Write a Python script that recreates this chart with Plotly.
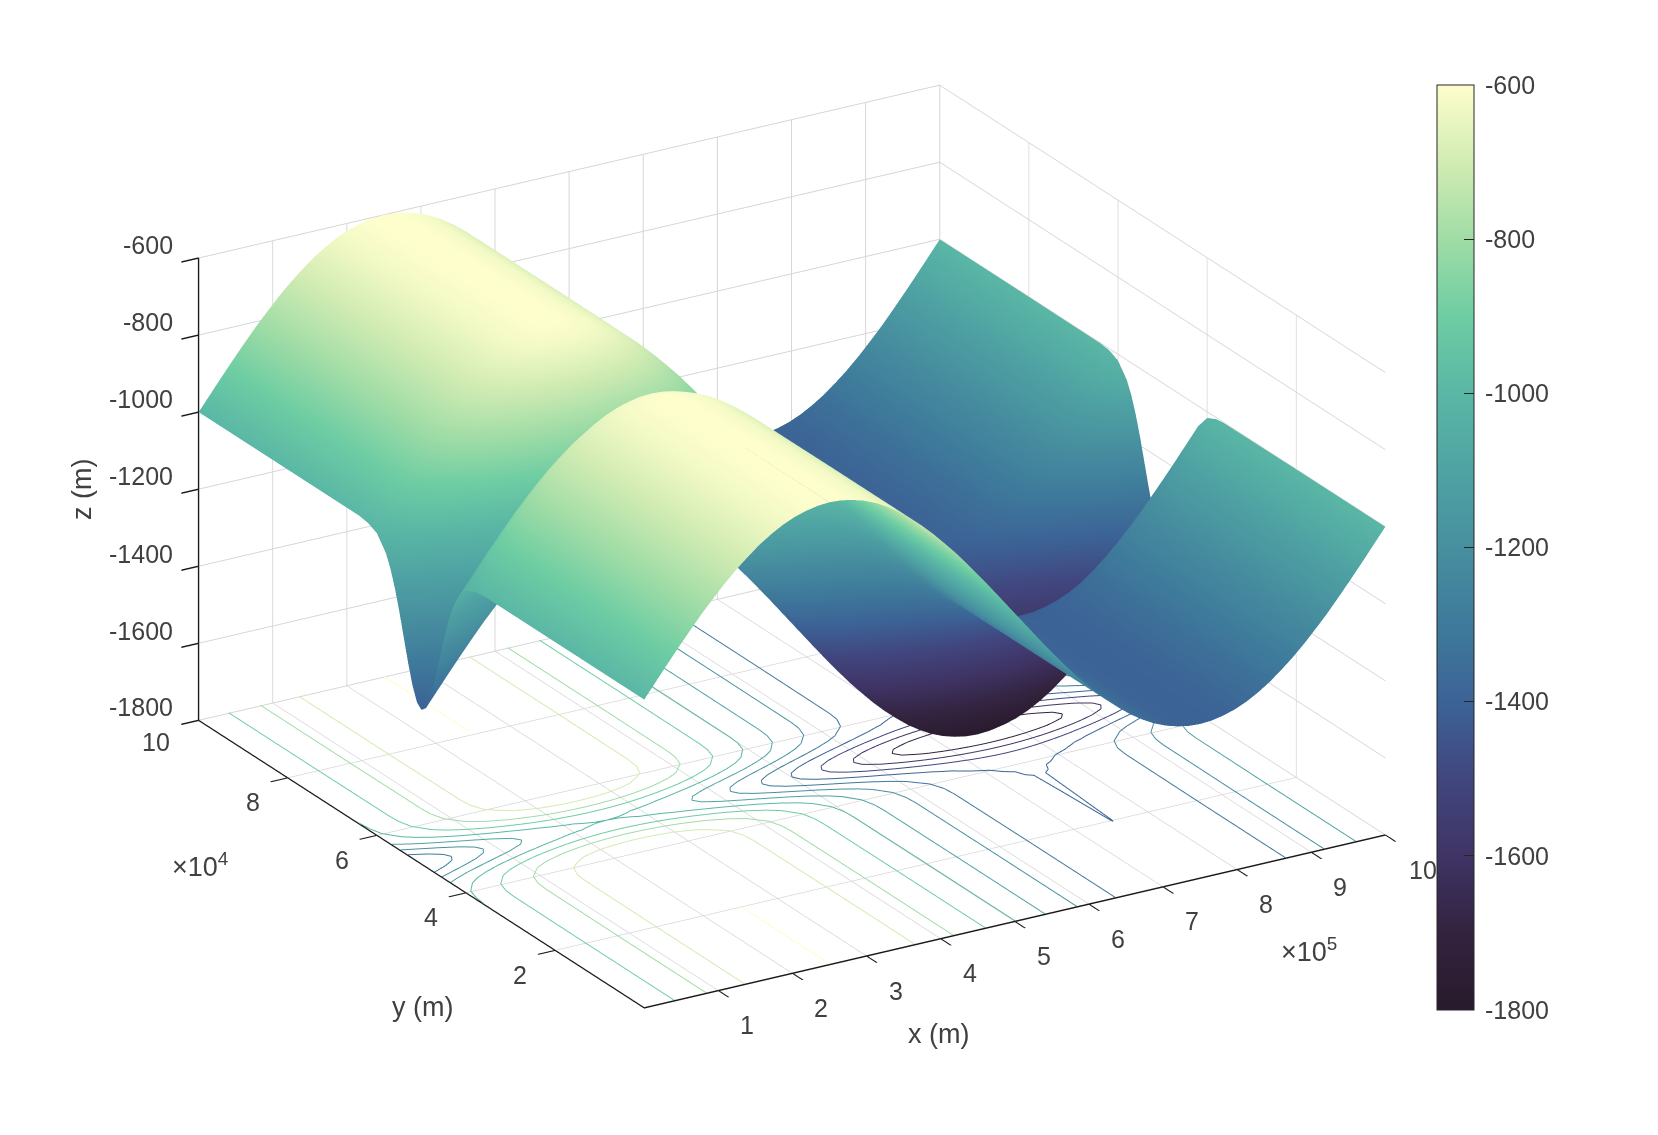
import numpy as np
import plotly.graph_objects as go

x_m = [0,15625,31250,46875,62500,78125,93750,109375,125000,140625,156250,171875,187500,203125,218750,234375,250000,
       265625,281250,296875,312500,328125,343750,359375,375000,390625,406250,421875,437500,453125,468750,484375,500000,
       515625,531250,546875,562500,578125,593750,609375,625000,640625,656250,671875,687500,703125,718750,734375,750000,
       765625,781250,796875,812500,828125,843750,859375,875000,890625,906250,921875,937500,953125,968750,984375,1000000]
y_m = [0,19000,20000,36000,38000,40000,42000,43000,44000,45000,46000,47000,48000,49000,50000,
       51000,52000,53000,54000,55000,56000,57000,58000,60000,62000,64000,80000,81000,100000]

ra = [-1000,-961,-922,-884,-847,-811,-778,-746,-717,-691,-667,-647,-630,-617,-608,-602,-600,-602,-608,-617,-630,-647,-667,-691,-717,-746,-778,-811,-847,-884,-922,-961,-1000,
      -1039,-1078,-1116,-1153,-1189,-1222,-1254,-1283,-1309,-1333,-1353,-1370,-1383,-1392,-1398,-1399.9,-1398,-1392,-1383,-1370,-1353,-1333,-1309,-1283,-1254,-1222,-1189,-1153,-1116,-1078,-1039,-1000.01]
rb = [-1000,-961,-922,-884,-847,-811,-778,-746,-717,-691,-667,-647,-630,-617,-608,-602,-600.1,-602,-608,-617,-630,-647,-667,-691,-717,-746,-778,-811,-847,-884,-922,-961,-1000,
      -1039,-1078,-1116,-1153,-1189,-1222,-1254,-1283,-1309,-1333,-1353,-1370,-1383,-1392,-1398,-1400.1,-1398,-1392,-1383,-1370,-1353,-1333,-1309,-1283,-1254,-1222,-1189,-1153,-1116,-1078,-1039,-1000.01]
r01 = [-1000,-962,-923,-885,-848,-812,-779,-747,-718,-692,-668,-648,-631,-618,-609,-603,-601,-603,-609,-618,-631,-648,-668,-692,-718,-747,-779,-812,-848,-885,-923,-962,-1001,
       -1040,-1079,-1117,-1154,-1190,-1223,-1255,-1284,-1310,-1334,-1354,-1371,-1384,-1393,-1399,-1401,-1399,-1393,-1384,-1371,-1354,-1334,-1310,-1284,-1255,-1223,-1190,-1154,-1117,-1079,-1040,-1001]
r04 = [-1004,-965,-926,-888,-851,-815,-782,-750,-721,-695,-671,-651,-634,-621,-612,-606,-604,-606,-612,-621,-634,-651,-671,-695,-721,-750,-782,-815,-851,-888,-926,-965,-1004,
       -1043,-1082,-1120,-1157,-1193,-1226,-1258,-1287,-1313,-1337,-1357,-1374,-1387,-1396,-1402,-1404,-1402,-1396,-1387,-1374,-1357,-1337,-1313,-1287,-1258,-1226,-1193,-1157,-1120,-1082,-1043,-1004]
r16 = [-1016,-977,-938,-900,-863,-827,-794,-762,-733,-707,-683,-663,-646,-633,-624,-618,-616,-618,-624,-633,-646,-663,-683,-707,-733,-762,-794,-827,-863,-900,-938,-977,-1016,
       -1055,-1094,-1132,-1169,-1205,-1238,-1270,-1299,-1325,-1349,-1369,-1386,-1399,-1408,-1414,-1416,-1414,-1408,-1399,-1386,-1369,-1349,-1325,-1299,-1270,-1238,-1205,-1169,-1132,-1094,-1055,-1016]
r52 = [-1052,-1013,-974,-936,-899,-863,-830,-798,-769,-743,-719,-699,-682,-669,-660,-654,-652,-654,-660,-669,-682,-699,-719,-743,-769,-798,-830,-863,-899,-936,-974,-1013,-1052,
       -1091,-1130,-1168,-1205,-1241,-1274,-1306,-1335,-1361,-1385,-1405,-1422,-1435,-1444,-1450,-1452,-1450,-1444,-1435,-1422,-1405,-1385,-1361,-1335,-1306,-1274,-1241,-1205,-1168,-1130,-1091,-1052]
r84 = [-1084,-1045,-1006,-968,-931,-895,-862,-830,-801,-775,-751,-731,-714,-701,-692,-686,-684,-686,-692,-701,-714,-731,-751,-775,-801,-830,-862,-895,-931,-968,-1006,-1045,-1084,
       -1123,-1162,-1200,-1237,-1273,-1306,-1338,-1367,-1393,-1417,-1437,-1454,-1467,-1476,-1482,-1484,-1482,-1476,-1467,-1454,-1437,-1417,-1393,-1367,-1338,-1306,-1273,-1237,-1200,-1162,-1123,-1084]
r127 = [-1127,-1088,-1049,-1011,-974,-938,-905,-873,-844,-818,-794,-774,-757,-744,-735,-729,-727,-729,-735,-744,-757,-774,-794,-818,-844,-873,-905,-938,-974,-1011,-1049,-1088,-1127,
        -1166,-1205,-1243,-1280,-1316,-1349,-1381,-1410,-1436,-1460,-1480,-1497,-1510,-1519,-1525,-1527,-1525,-1519,-1510,-1497,-1480,-1460,-1436,-1410,-1381,-1349,-1316,-1280,-1243,-1205,-1166,-1127]
r180 = [-1180,-1141,-1102,-1064,-1027,-991,-958,-926,-897,-871,-847,-827,-810,-797,-788,-782,-780,-782,-788,-797,-810,-827,-847,-871,-897,-926,-958,-991,-1027,-1064,-1102,-1141,-1180,
        -1219,-1258,-1296,-1333,-1369,-1402,-1434,-1463,-1489,-1513,-1533,-1550,-1563,-1572,-1578,-1580,-1578,-1572,-1563,-1550,-1533,-1513,-1489,-1463,-1434,-1402,-1369,-1333,-1296,-1258,-1219,-1180]
r240 = [-1240,-1201,-1162,-1124,-1087,-1051,-1018,-986,-957,-931,-907,-887,-870,-857,-848,-842,-840,-842,-848,-857,-870,-887,-907,-931,-957,-986,-1018,-1051,-1087,-1124,-1162,-1201,-1240,
        -1279,-1318,-1356,-1393,-1429,-1462,-1494,-1523,-1549,-1573,-1593,-1610,-1623,-1632,-1638,-1640,-1638,-1632,-1623,-1610,-1593,-1573,-1549,-1523,-1494,-1462,-1429,-1393,-1356,-1318,-1279,-1240]
r300 = [-1300,-1261,-1222,-1184,-1147,-1111,-1078,-1046,-1017,-991,-967,-947,-930,-917,-908,-902,-900,-902,-908,-917,-930,-947,-967,-991,-1017,-1046,-1078,-1111,-1147,-1184,-1222,-1261,-1300,
        -1339,-1378,-1416,-1453,-1489,-1522,-1554,-1583,-1609,-1633,-1653,-1670,-1683,-1692,-1698,-1700,-1698,-1692,-1683,-1670,-1653,-1633,-1609,-1583,-1554,-1522,-1489,-1453,-1416,-1378,-1339,-1300]
r352 = [-1352,-1313,-1274,-1236,-1199,-1163,-1130,-1098,-1069,-1043,-1019,-999,-982,-969,-960,-954,-952,-954,-960,-969,-982,-999,-1019,-1043,-1069,-1098,-1130,-1163,-1199,-1236,-1274,-1313,-1352,
        -1391,-1430,-1468,-1505,-1541,-1574,-1606,-1635,-1661,-1685,-1705,-1722,-1735,-1744,-1750,-1752,-1750,-1744,-1735,-1722,-1705,-1685,-1661,-1635,-1606,-1574,-1541,-1505,-1468,-1430,-1391,-1352]
r388 = [-1388,-1349,-1310,-1272,-1235,-1199,-1166,-1134,-1105,-1079,-1055,-1035,-1018,-1005,-996,-990,-988,-990,-996,-1005,-1018,-1035,-1055,-1079,-1105,-1134,-1166,-1199,-1235,-1272,-1310,-1349,-1388,
        -1427,-1466,-1504,-1541,-1577,-1610,-1642,-1671,-1697,-1721,-1741,-1758,-1771,-1780,-1786,-1788,-1786,-1780,-1771,-1758,-1741,-1721,-1697,-1671,-1642,-1610,-1577,-1541,-1504,-1466,-1427,-1388]
r400 = [-1400,-1361,-1322,-1284,-1247,-1211,-1178,-1146,-1117,-1091,-1067,-1047,-1030,-1017,-1008,-1002,-1000,-1002,-1008,-1017,-1030,-1047,-1067,-1091,-1117,-1146,-1178,-1211,-1247,-1284,-1322,-1361,-1400,
        -1439,-1478,-1516,-1553,-1589,-1622,-1654,-1683,-1709,-1733,-1753,-1770,-1783,-1792,-1798,-1800,-1798,-1792,-1783,-1770,-1753,-1733,-1709,-1683,-1654,-1622,-1589,-1553,-1516,-1478,-1439,-1400]

z_rows = [ra, ra, rb, r01, r04, r16, r52, r84, r127, r180, r240, r300, r352, r388, r400,
          r388, r352, r300, r240, r180, r127, r84, r52, r16, r04, r01, rb, ra, ra]

contour_levels = [-1700,-1600,-1500,-1400,-1300,-1200,-1100,-1000,-900,-800,-700,-600]
x_ticks = [100000,200000,300000,400000,500000,600000,700000,800000,900000,1000000]
x_labels = ["1","2","3","4","5","6","7","8","9","10"]
y_ticks = [20000,40000,60000,80000,100000]
y_labels = ["2","4","6","8","10"]
z_ticks = [-1800,-1600,-1400,-1200,-1000,-800,-600]
z_labels = ["-1800","-1600","-1400","-1200","-1000","-800","-600"]

deep = [[0,"#281a2c"],[0.083,"#33233f"],[0.167,"#3f3465"],[0.25,"#41467f"],[0.333,"#3c6396"],[0.417,"#3e7a9b"],
        [0.5,"#478f9f"],[0.583,"#4fa3a3"],[0.667,"#5ab7a5"],[0.75,"#6ecda3"],[0.833,"#a0dca6"],[0.917,"#d2ecb3"],[1,"#fdfecc"]]

TXT = "#404040"
FONT = "Liberation Sans"
TICK_SIZE = 25
PAGE = 8
W, H = 1658, 1135
FLOOR_LIFT = -1798   # just inside the scene clip box, which hides lines lying exactly on its floor
X_EDGE, Y_EDGE, Z_EDGE = 999000, 99900, -1799   # label anchors must stay just inside the box to be shown
def px(v): return (v - PAGE) / W
def py(v): return 1 - (v - PAGE) / H

z = np.array(z_rows, dtype=float)
flat = dict(ambient=1, diffuse=0, specular=0, roughness=1, fresnel=0)

def trace_contours(xs, ys, table, levels):
    out_x, out_y, out_c = [], [], []
    for level in levels:
        for j in range(len(ys) - 1):
            for i in range(len(xs) - 1):
                corners = [(xs[i], ys[j], table[j, i]), (xs[i+1], ys[j], table[j, i+1]),
                           (xs[i+1], ys[j+1], table[j+1, i+1]), (xs[i], ys[j+1], table[j+1, i])]
                for tri in ((corners[0], corners[1], corners[2]), (corners[0], corners[2], corners[3])):
                    hits = []
                    for a, b in ((tri[0], tri[1]), (tri[1], tri[2]), (tri[2], tri[0])):
                        if (a[2] >= level) != (b[2] >= level):
                            t = (level - a[2]) / (b[2] - a[2])
                            hits.append((a[0] + t*(b[0]-a[0]), a[1] + t*(b[1]-a[1])))
                    if len(hits) == 2:
                        out_x += [hits[0][0], hits[1][0], None]
                        out_y += [hits[0][1], hits[1][1], None]
                        out_c += [level, level, level]
    return out_x, out_y, out_c

cx, cy, cc = trace_contours(x_m, y_m, z, contour_levels)
lines = go.Scatter3d(x=cx, y=cy, z=[FLOOR_LIFT]*len(cx), mode="lines", hoverinfo="skip", showlegend=False,
                     line=dict(color=cc, colorscale=deep, cmin=-1800, cmax=-600, width=2))
surf = go.Surface(x=x_m, y=y_m, z=z, colorscale=deep, cmin=-1800, cmax=-600, lighting=flat,
                  colorbar=dict(x=px(1437), xanchor="left", xpad=0, ypad=0, y=py(547.5), yanchor="middle", len=925/H,
                                thickness=37, outlinecolor="#262626", outlinewidth=1, tickvals=z_ticks,
                                ticktext=["\u2009" + s for s in z_labels],
                                ticks="inside", ticklen=10, tickcolor="#262626",
                                tickfont=dict(family=FONT, size=TICK_SIZE, color=TXT)))

def axis(ticks, rng):
    return dict(range=rng, tickvals=ticks, showticklabels=False, title=dict(text=""), showbackground=False,
                showgrid=True, gridcolor="#d6d6d6", gridwidth=2, zeroline=False, showline=True, linecolor="#1a1a1a",
                linewidth=3, ticks="outside", ticklen=20, tickcolor="#1a1a1a", tickwidth=3, showspikes=False)

tick_font = dict(family=FONT, size=TICK_SIZE, color=TXT)
scene_notes = []
for v, s in zip(x_ticks, x_labels):
    scene_notes.append(dict(x=min(v, X_EDGE), y=0, z=Z_EDGE, text=s, showarrow=False, xshift=38 if s == "10" else 29, yshift=-35, font=tick_font))
for v, s in zip(y_ticks, y_labels):
    scene_notes.append(dict(x=0, y=min(v, Y_EDGE), z=Z_EDGE, text=s, showarrow=False, xshift=-43 if s == "10" else -35,
                            yshift=-22 if s == "10" else -25, font=tick_font))
for v, s in zip(z_ticks, z_labels):
    scene_notes.append(dict(x=0, y=Y_EDGE, z=max(v, Z_EDGE), text=s, showarrow=False, xanchor="right", xshift=-24, yshift=13, font=tick_font))

E = 1.25
SCALE = 1.606
title_font = dict(family=FONT, size=27, color=TXT)
def note(text, x, y, **kw):
    return dict(text=text, x=px(x), y=py(y), xref="paper", yref="paper", xanchor="center", yanchor="middle",
                showarrow=False, font=title_font, **kw)
fig = go.Figure([lines, surf])
fig.update_layout(
    width=W, height=H, margin=dict(l=0, r=0, t=0, b=0, autoexpand=False), paper_bgcolor="white", showlegend=False,
    scene=dict(domain=dict(x=[0, 0.9457], y=[0.0511, 1]),
               xaxis=axis(x_ticks, [0, 1000000]),
               yaxis=axis(y_ticks, [0, 100000]),
               zaxis=axis(z_ticks, [-1800, -600]),
               aspectmode="manual", aspectratio=dict(x=SCALE, y=SCALE, z=0.58*SCALE),
               annotations=scene_notes,
               camera=dict(projection=dict(type="orthographic"), up=dict(x=0, y=0, z=1),
                           eye=dict(x=-0.475*E, y=-0.79*E, z=0.388*E), center=dict(x=0, y=0, z=0))),
    annotations=[
        note("x (m)", 938, 1034),
        note("y (m)", 422, 1007),
        note("z (m)", 82, 490, textangle=-90),
        note("×10<sup>5</sup>", 1309, 950),
        note("×10<sup>4</sup>", 200, 865),
    ])
fig.write_html("out.html")
